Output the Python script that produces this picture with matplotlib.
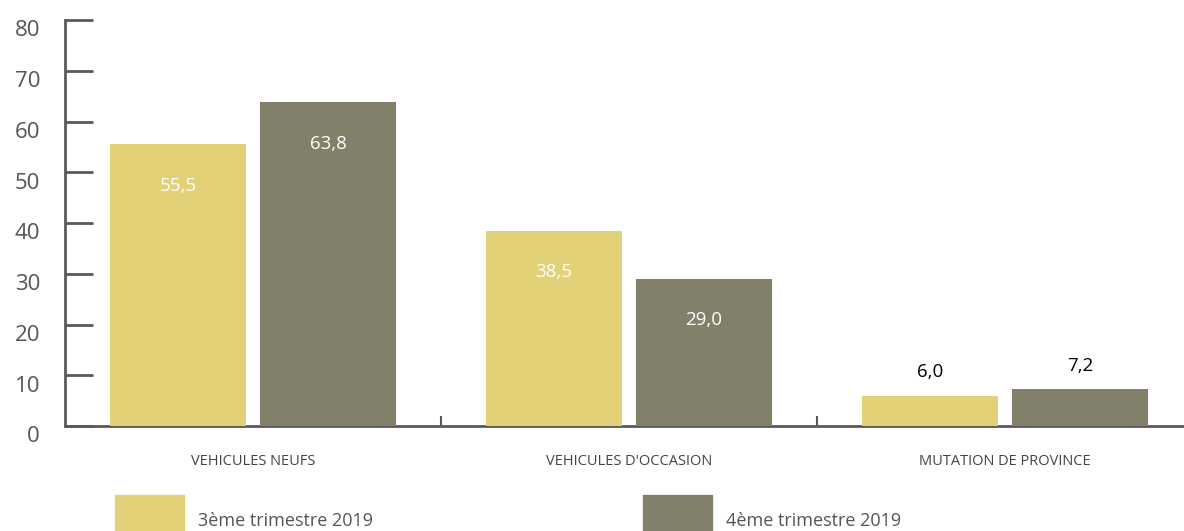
import matplotlib
matplotlib.use('Agg')
import matplotlib.pyplot as plt
import matplotlib.transforms as mtransforms
from matplotlib.patches import Rectangle
import numpy as np

categories = ['VEHICULES NEUFS', "VEHICULES D'OCCASION", 'MUTATION DE PROVINCE']
series_names = ['3ème trimestre 2019', '4ème trimestre 2019']
q3_values = [55.5, 38.5, 6.0]
q4_values = [63.8, 29.0, 7.2]
y_ticks = [0, 10, 20, 30, 40, 50, 60, 70, 80]

yellow = '#E2D176'
grey = '#827F6A'
axis_col = '#5a5a5a'

plt.rcParams['font.family'] = ['Open Sans', 'DejaVu Sans']

W, H = 1184, 531
fig = plt.figure(figsize=(W / 100, H / 100), dpi=100)
ax = fig.add_axes([65 / W, 105 / H, 1 - 65 / W, (426 - 20) / H])

x = np.arange(len(categories))
bw = 0.362
gap = 0.037
b1 = ax.bar(x - (bw + gap) / 2, q3_values, bw, color=yellow, zorder=3)
b2 = ax.bar(x + (bw + gap) / 2, q4_values, bw, color=grey, zorder=3)

for bars, vals in ((b1, q3_values), (b2, q4_values)):
    for r, v in zip(bars, vals):
        cx = r.get_x() + r.get_width() / 2
        label = ('%.1f' % v).replace('.', ',')
        if v > 15:
            ax.annotate(label, (cx, v), xytext=(0, -30), textcoords='offset points',
                        ha='center', va='center', color='white', fontsize=13.5)
        else:
            ax.annotate(label, (cx, v), xytext=(0, 17), textcoords='offset points',
                        ha='center', va='center', color='black', fontsize=13.5)

ax.set_ylim(0, 80)
ax.set_xlim(-0.5, 2.476)
ax.set_yticks(y_ticks)
ax.set_yticklabels([str(t) for t in y_ticks], fontsize=16, color='#555555')
ax.tick_params(axis='y', direction='in', length=20, width=2, color=axis_col, pad=18)
# labels sit a little below their ticks in the original
shift = mtransforms.ScaledTranslation(0, -6 / 72, fig.dpi_scale_trans)
for lab in ax.get_yticklabels():
    lab.set_transform(lab.get_transform() + shift)

ax.set_xticks(x)
ax.set_xticklabels(categories, fontsize=10.5, color='#444444')
ax.tick_params(axis='x', length=0, pad=20)
ax.set_xticks([0.5, 1.5], minor=True)
ax.tick_params(axis='x', which='minor', direction='in', length=7, width=1.5, color=axis_col)

for s in ('top', 'right'):
    ax.spines[s].set_visible(False)
ax.spines['left'].set_color(axis_col)
ax.spines['left'].set_linewidth(2)
ax.spines['bottom'].set_color(axis_col)
ax.spines['bottom'].set_linewidth(2)
ax.spines['left'].set_zorder(4)

# legend
legend_x = [115, 643]
for lx, name, col in zip(legend_x, series_names, (yellow, grey)):
    fig.add_artist(Rectangle((lx / W, -10 / H), 69 / W, 46 / H, transform=fig.transFigure,
                             color=col, clip_on=False))
    fig.text((lx + 83) / W, (531 - 521) / H, name, fontsize=13, color='#555555', va='center')

fig.savefig('out.png', dpi=100)
